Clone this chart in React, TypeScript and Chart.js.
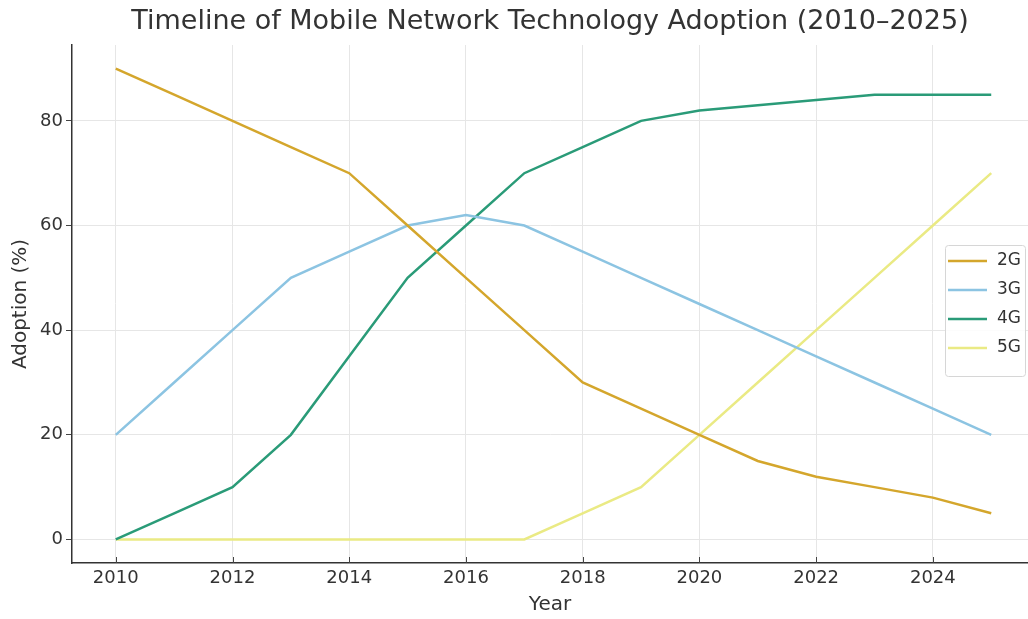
import React, { useEffect, useRef } from "react";
import { Chart, registerables } from "chart.js";

Chart.register(...registerables);

const years = [2010, 2011, 2012, 2013, 2014, 2015, 2016, 2017, 2018, 2019, 2020, 2021, 2022, 2023, 2024, 2025];
const adoption2G = [90, 85, 80, 75, 70, 60, 50, 40, 30, 25, 20, 15, 12, 10, 8, 5];
const adoption3G = [20, 30, 40, 50, 55, 60, 62, 60, 55, 50, 45, 40, 35, 30, 25, 20];
const adoption4G = [0, 5, 10, 20, 35, 50, 60, 70, 75, 80, 82, 83, 84, 85, 85, 85];
const adoption5G = [0, 0, 0, 0, 0, 0, 0, 0, 5, 10, 20, 30, 40, 50, 60, 70];
const seriesNames = ["2G", "3G", "4G", "5G"];
const seriesColors = ["#d4a62c", "#8cc4e2", "#2a9b78", "#eaea84"];
const xTicks = [2010, 2012, 2014, 2016, 2018, 2020, 2022, 2024];
const yTicks = [0, 20, 40, 60, 80];

const FONT = "'DejaVu Sans', sans-serif";
const TEXT = "#333333";

const innerTicks = {
  id: "innerTicks",
  afterDraw(chart: any) {
    const ctx = chart.ctx;
    const xs = chart.scales.x;
    const area = chart.chartArea;
    ctx.save();
    ctx.strokeStyle = "#444";
    ctx.lineWidth = 1;
    for (const t of xTicks) {
      const px = Math.round(xs.getPixelForValue(t)) + 0.5;
      ctx.beginPath();
      ctx.moveTo(px, area.bottom);
      ctx.lineTo(px, area.bottom - 6);
      ctx.stroke();
    }
    ctx.restore();
  },
};

const floatLegend = {
  id: "floatLegend",
  afterDraw(chart: any) {
    const ctx = chart.ctx;
    const area = chart.chartArea;
    const ds = chart.data.datasets;
    const bx = area.right - 83;
    const by = 245;
    const bw = 80;
    const bh = 131;
    ctx.save();
    ctx.fillStyle = "rgba(255,255,255,0.85)";
    ctx.strokeStyle = "#d6d6d6";
    ctx.lineWidth = 1;
    ctx.beginPath();
    (ctx as any).roundRect(bx + 0.5, by + 0.5, bw, bh, 3);
    ctx.fill();
    ctx.stroke();
    ctx.font = "17px " + FONT;
    ctx.textBaseline = "middle";
    ctx.textAlign = "left";
    ds.forEach((d: any, i: number) => {
      const y = by + 16 + i * 29;
      ctx.strokeStyle = d.borderColor;
      ctx.lineWidth = 2.5;
      ctx.beginPath();
      ctx.moveTo(bx + 3, y);
      ctx.lineTo(bx + 42, y);
      ctx.stroke();
      ctx.fillStyle = TEXT;
      ctx.fillText(d.label, bx + 52, y);
    });
    ctx.restore();
  },
};

export default function App() {
  const ref = useRef<HTMLCanvasElement>(null);
  useEffect(() => {
    if (!ref.current) return;
    const allSeries = [adoption2G, adoption3G, adoption4G, adoption5G];
    const chart = new Chart(ref.current, {
      type: "line",
      data: {
        datasets: allSeries.map((vals, i) => ({
          label: seriesNames[i],
          data: years.map((y, j) => ({ x: y, y: vals[j] })),
          borderColor: seriesColors[i],
          backgroundColor: seriesColors[i],
          borderWidth: 2.5,
          pointRadius: 0,
          tension: 0,
          fill: false,
        })),
      },
      options: {
        animation: false,
        responsive: false,
        layout: { padding: { left: 0, right: 0, top: 0, bottom: 0 } },
        plugins: {
          legend: { display: false },
          tooltip: { enabled: false },
          title: {
            display: true,
            fullSize: false,
            text: "Timeline of Mobile Network Technology Adoption (2010–2025)",
            color: TEXT,
            font: { family: FONT, size: 27, weight: "normal" },
            padding: { top: 6, bottom: 6.6 },
          },
        },
        scales: {
          x: {
            type: "linear",
            min: 2009.25,
            max: 2025.63,
            afterBuildTicks: (s: any) => {
              s.ticks = xTicks.map((v) => ({ value: v }));
            },
            afterFit: (s: any) => {
              s.height = 56;
            },
            ticks: {
              color: TEXT,
              font: { family: FONT, size: 18 },
              padding: 5,
              callback: (v: any) => String(v),
            },
            grid: { color: "#e6e6e6", lineWidth: 1, drawTicks: false },
            border: { display: true, color: "#333", width: 1.5 },
            title: {
              display: true,
              text: "Year",
              color: TEXT,
              font: { family: FONT, size: 20 },
              padding: { top: 0, bottom: 2 },
            },
          },
          y: {
            type: "linear",
            min: -4.5,
            max: 94.5,
            afterBuildTicks: (s: any) => {
              s.ticks = yTicks.map((v) => ({ value: v }));
            },
            afterFit: (s: any) => {
              s.width = 72;
            },
            ticks: {
              color: TEXT,
              font: { family: FONT, size: 18 },
              padding: 3,
            },
            grid: { color: "#e6e6e6", lineWidth: 1, tickLength: 6, tickColor: "#444" },
            border: { display: true, color: "#333", width: 1.5 },
            title: {
              display: true,
              text: "Adoption (%)",
              color: TEXT,
              font: { family: FONT, size: 20 },
              padding: { top: 9, bottom: 0 },
            },
          },
        },
      },
      plugins: [innerTicks, floatLegend],
    });
    return () => chart.destroy();
  }, []);
  return (
    <div style={{ position: "absolute", left: 0, top: 0, width: 1028, height: 619, background: "#fff", overflow: "hidden" }}>
      <canvas ref={ref} width={1028} height={619} style={{ display: "block" }} />
    </div>
  );
}
